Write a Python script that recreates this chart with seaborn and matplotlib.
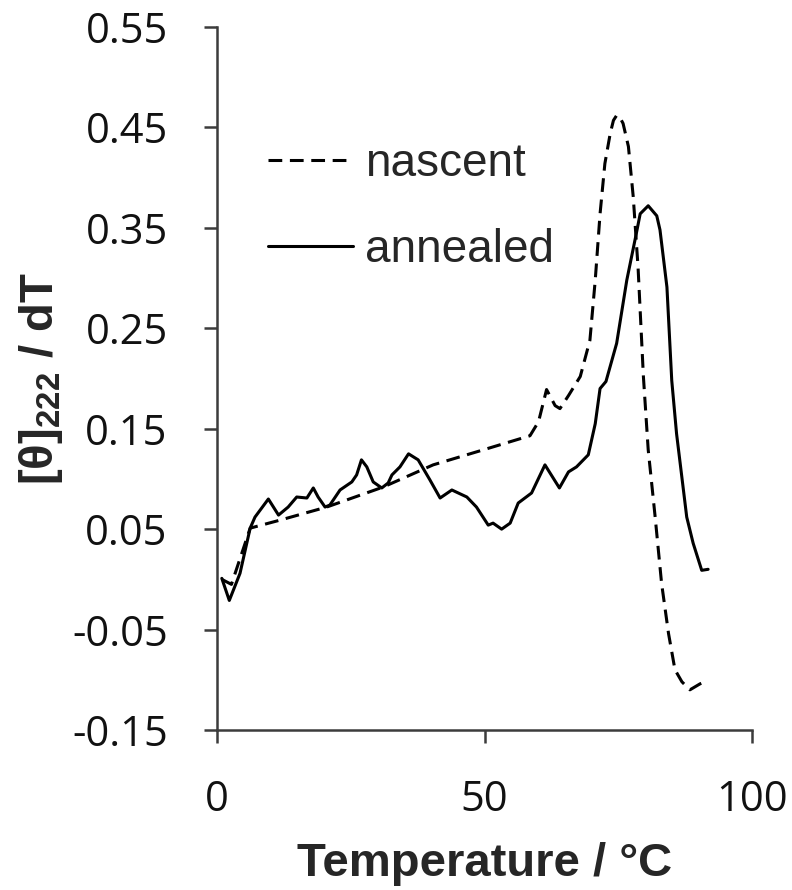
import matplotlib
matplotlib.use("Agg")
import matplotlib.pyplot as plt
import seaborn as sns
import pandas as pd

# Temperature (°C) and CD derivative for the two samples
nascent_T = [0.9, 2.7, 6.2, 11.8, 20.5, 31.1, 40.4, 49.8, 58.5, 60.1, 61.6, 63.2,
             64.1, 65.7, 67.9, 69.7, 70.7, 71.6, 72.5, 73.5, 74.1, 74.7, 75.3, 75.9,
             76.9, 77.8, 78.7, 79.7, 80.6, 81.9, 83.1, 84.4, 85.6, 86.9, 88.4, 90.3,
             91.7]
nascent_v = [0.0, -0.005, 0.051, 0.059, 0.072, 0.092, 0.114, 0.129, 0.143, 0.157,
             0.189, 0.173, 0.170, 0.183, 0.202, 0.238, 0.298, 0.364, 0.414, 0.444,
             0.457, 0.462, 0.460, 0.454, 0.431, 0.381, 0.311, 0.202, 0.129, 0.062,
             -0.004, -0.054, -0.090, -0.102, -0.110, -0.104, -0.101]

annealed_T = [0.9, 2.3, 4.3, 6.2, 7.1, 9.6, 11.5, 13.3, 14.9, 16.8, 18.0, 18.9, 20.2,
              21.1, 23.0, 25.2, 26.1, 27.0, 28.0, 29.2, 30.8, 32.0, 32.7, 34.2, 35.8,
              37.6, 39.8, 41.7, 43.9, 46.7, 48.5, 50.7, 51.6, 53.2, 54.8, 56.3, 58.8,
              61.3, 64.0, 65.7, 67.2, 69.4, 70.7, 71.6, 72.7, 74.7, 76.6, 78.4, 79.1,
              80.6, 82.2, 82.8, 84.1, 85.0, 85.9, 87.8, 89.0, 90.6, 91.8]
annealed_v = [0.001, -0.021, 0.006, 0.051, 0.062, 0.080, 0.064, 0.072, 0.082, 0.081,
              0.091, 0.082, 0.072, 0.074, 0.089, 0.097, 0.104, 0.119, 0.112, 0.097,
              0.091, 0.096, 0.104, 0.112, 0.125, 0.119, 0.099, 0.081, 0.089, 0.082,
              0.072, 0.054, 0.056, 0.050, 0.056, 0.076, 0.086, 0.114, 0.091, 0.107,
              0.112, 0.124, 0.155, 0.190, 0.197, 0.235, 0.298, 0.345, 0.364, 0.372,
              0.362, 0.348, 0.291, 0.198, 0.145, 0.062, 0.036, 0.009, 0.010]

series_labels = ["nascent", "annealed"]
x_ticks = [0, 50, 100]
y_ticks = [-0.15, -0.05, 0.05, 0.15, 0.25, 0.35, 0.45, 0.55]
y_tick_labels = ["-0.15", "-0.05", "0.05", "0.15", "0.25", "0.35", "0.45", "0.55"]

sns.set_style("white")
plt.rcParams["font.family"] = ["DejaVu Sans"]
plt.rcParams["mathtext.fontset"] = "custom"
plt.rcParams["mathtext.rm"] = "Liberation Sans"

fig = plt.figure(figsize=(7.92, 8.90), dpi=100)
ax = fig.add_axes([217 / 792, 1 - 730 / 890, 535 / 792, 703 / 890])

df_n = pd.DataFrame({"T": nascent_T, "v": nascent_v})
df_a = pd.DataFrame({"T": annealed_T, "v": annealed_v})

sns.lineplot(data=df_n, x="T", y="v", ax=ax, color="black", lw=2.2,
             linestyle=(0, (4.5, 2.5)), label=series_labels[0], sort=False)
sns.lineplot(data=df_a, x="T", y="v", ax=ax, color="black", lw=2.2,
             label=series_labels[1], sort=False)

ax.set_xlim(0, 100)
ax.set_ylim(-0.15, 0.55)

for side in ("top", "right"):
    ax.spines[side].set_visible(False)
for side in ("left", "bottom"):
    ax.spines[side].set_color("#3c3c3c")
    ax.spines[side].set_linewidth(1.8)

ax.set_xticks(x_ticks)
ax.set_xticklabels([str(t) for t in x_ticks])
ax.set_yticks(y_ticks)
ax.set_yticklabels(y_tick_labels)
ax.tick_params(axis="both", direction="out", length=9.5, width=1.8, color="#3c3c3c",
               pad=26, labelsize=30, labelcolor="#111111", bottom=True, left=True)
for lab in ax.get_xticklabels() + ax.get_yticklabels():
    lab.set_fontfamily("Open Sans")

ax.set_xlabel("Temperature / °C", fontsize=34, fontweight="bold",
              family="Liberation Sans", labelpad=15)
ax.set_ylabel("[θ]$_{\\mathregular{222}}$ / dT", fontsize=34, fontweight="bold",
              family="Liberation Sans", labelpad=5)

leg = ax.legend(loc="upper left", bbox_to_anchor=(0.095, 0.837), frameon=False,
                prop={"family": "Liberation Sans", "size": 33},
                handlelength=1.85, handletextpad=0.28, labelspacing=0.92,
                borderpad=0, borderaxespad=0)
for h in leg.get_lines():
    h.set_linewidth(2.2)

fig.savefig("out.png", dpi=100, facecolor="white")
